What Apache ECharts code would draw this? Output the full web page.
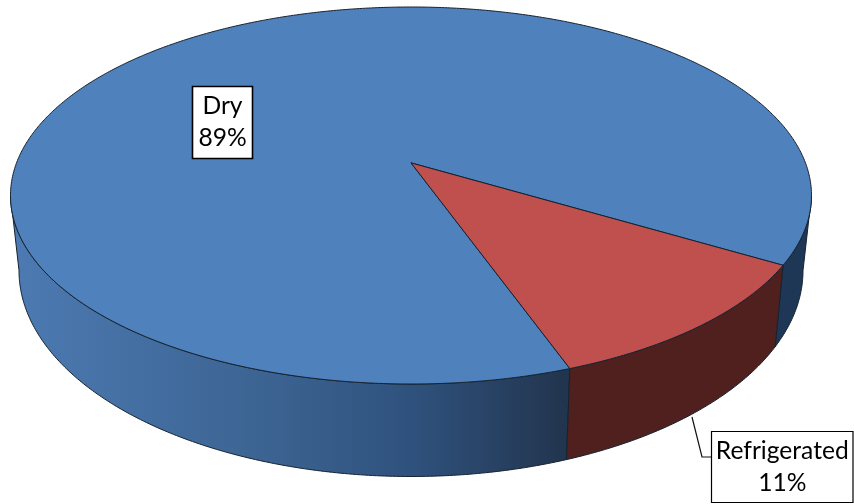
<!DOCTYPE html>
<html>
<head>
<meta charset="utf-8">
<style>html,body{margin:0;padding:0;background:#fff}#chart{width:854px;height:504px}</style>
<script src="https://cdn.jsdelivr.net/npm/echarts@6/dist/echarts.min.js"></script>
</head>
<body>
<div id="chart"></div>
<script>
var categories = ['Dry', 'Refrigerated'];
var values = [89, 11];

var topColors = ['#4f81bd', '#bf504d'];
var startAngle = 70.3;
var tilt = 0.173;
var topEllipse = { cx: 411, cy: 195.5, a: 400.5, b: 188.5 };
var baseEllipse = { cx: 411, cy: 270.5, a: 392, b: 206 };
var outline = '#16222f';
var sideFills = [
  { type: 'linear', global: true, x: 10, y: 0, x2: 812, y2: 0, colorStops: [
    { offset: 0, color: '#4c7ab2' }, { offset: 0.3, color: '#3d6594' },
    { offset: 0.5, color: '#2f527d' }, { offset: 0.69, color: '#22354f' },
    { offset: 1, color: '#1e3756' } ] },
  '#4f201e'
];
var labelBoxes = [
  { x: 192.5, y: 86.5, w: 60, h: 72, line: 1.6 },
  { x: 711.5, y: 431.5, w: 141.5, h: 71, line: 1.2 }
];
var leaders = [null, [[692, 417], [702, 457], [711, 457]]];

var total = values.reduce(function (s, v) { return s + v; }, 0);

function project(deg, e) {
  var t = deg * Math.PI / 180, u = Math.cos(t), v = Math.sin(t);
  var w = 1 - tilt * v;
  var nv = (v - tilt) / w, nu = u * Math.sqrt(1 - tilt * tilt) / w;
  return [e.cx + e.a * nu, e.cy + e.b * nv];
}
function arc(a0, a1, e) {
  var pts = [], n = Math.max(2, Math.ceil(Math.abs(a1 - a0) * 2));
  for (var i = 0; i <= n; i++) pts.push(project(a0 + (a1 - a0) * i / n, e));
  return pts;
}
function apex() {
  return [topEllipse.cx, topEllipse.cy - tilt * topEllipse.b];
}

function renderItem(params, api) {
  var i = params.dataIndex, children = [];
  var before = 0;
  for (var k = 0; k < i; k++) before += values[k];
  var a0 = startAngle + before / total * 360;
  var a1 = a0 + api.value(1) / total * 360;

  // Front wall: only the part of the rim that faces the viewer
  var f0 = Math.asin(tilt) * 180 / Math.PI, f1 = 180 - f0;
  [-360, 0, 360].forEach(function (off) {
    var s = Math.max(a0, f0 + off), e = Math.min(a1, f1 + off);
    if (e > s) {
      var pts = arc(s, e, topEllipse).concat(arc(s, e, baseEllipse).reverse());
      children.push({ type: 'polygon', shape: { points: pts },
        style: { fill: sideFills[i], stroke: outline, lineWidth: 1 } });
    }
  });

  // Top face
  children.push({ type: 'polygon', shape: { points: [apex()].concat(arc(a0, a1, topEllipse)) },
    style: { fill: topColors[i], stroke: outline, lineWidth: 1 } });

  // Leader line and label box
  if (leaders[i]) {
    children.push({ type: 'polyline', shape: { points: leaders[i] },
      style: { fill: null, stroke: '#111', lineWidth: 1.2 } });
  }
  var b = labelBoxes[i];
  children.push({ type: 'rect', shape: { x: b.x, y: b.y, width: b.w, height: b.h },
    style: { fill: '#fff', stroke: '#000', lineWidth: b.line } });
  children.push({ type: 'text', x: b.x + b.w / 2, y: b.y + b.h / 2,
    style: { text: categories[i] + '\n' + Math.round(api.value(1) / total * 100) + '%',
      fill: '#000', font: '24.6px Lato, "Noto Sans", sans-serif', lineHeight: 32,
      align: 'center', verticalAlign: 'middle' } });
  return { type: 'group', children: children };
}

var chart = echarts.init(document.getElementById('chart'), null, { renderer: 'canvas' });
chart.setOption({
  animation: false,
  backgroundColor: '#fff',
  series: [{
    type: 'custom',
    coordinateSystem: 'none',
    silent: true,
    renderItem: renderItem,
    data: categories.map(function (c, i) { return [i, values[i]]; })
  }]
});
</script>
</body>
</html>
